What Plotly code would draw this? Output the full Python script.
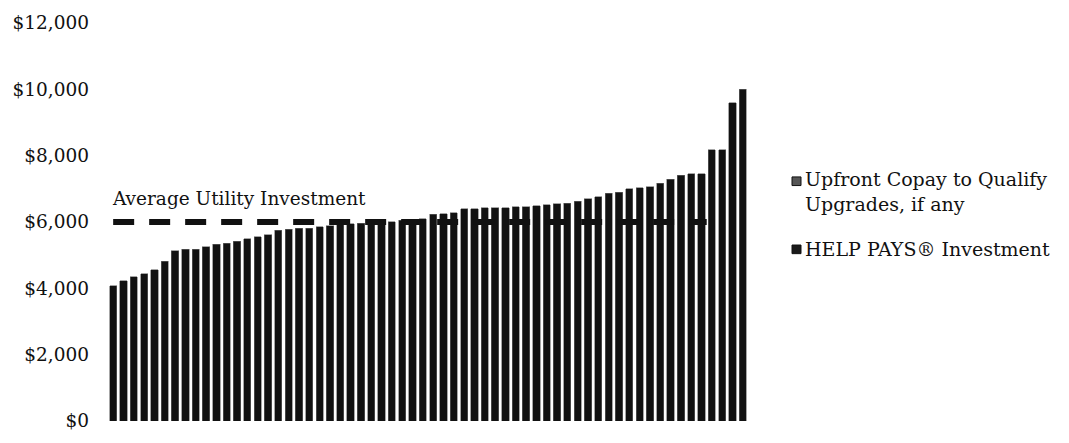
import plotly.graph_objects as go

# ---- data ----
bar_ids = list(range(1, 63))
help_pays = [4073, 4227, 4343, 4438, 4566, 4815, 5133, 5174, 5174, 5249,
             5336, 5365, 5414, 5501, 5559, 5617, 5753, 5782, 5811, 5811,
             5857, 5886, 5935, 5944, 5964, 5984, 5993, 6013, 6051, 6080,
             6100, 6233, 6254, 6274, 6398, 6398, 6427, 6427, 6427, 6456,
             6465, 6494, 6514, 6543, 6572, 6621, 6708, 6755, 6870, 6891,
             7006, 7035, 7056, 7171, 7287, 7403, 7449, 7449, 8185, 8185,
             9592, 9997]
copay = [0] * 62
avg_utility = 6000
avg_x = [1, 58.5]
y_ticks = [0, 2000, 4000, 6000, 8000, 10000, 12000]
y_tick_text = ["$0", "$2,000", "$4,000", "$6,000", "$8,000", "$10,000", "$12,000"]

FONT = "DejaVu Serif"

fig = go.Figure()
fig.add_trace(go.Bar(x=bar_ids, y=help_pays, name="HELP PAYS® Investment",
                     marker=dict(color="#121212", line=dict(color="#6a6a6a", width=0.6)),
                     showlegend=False))
fig.add_trace(go.Bar(x=bar_ids, y=copay, name="Upfront Copay to Qualify Upgrades, if any",
                     marker=dict(color="#3c3c3c", line=dict(width=0)),
                     showlegend=False))
fig.add_trace(go.Scatter(x=avg_x, y=[avg_utility] * len(avg_x), mode="lines",
                         line=dict(color="#111111", width=6, dash="21px,15px"),
                         showlegend=False, hoverinfo="skip"))

fig.update_layout(
    width=1069, height=443,
    margin=dict(l=108, r=321, t=15, b=13),
    paper_bgcolor="white", plot_bgcolor="white",
    barmode="stack", bargap=0.3,
    font=dict(family=FONT, color="#111111", size=18),
    xaxis=dict(range=[0.5, 62.5], showticklabels=False, showgrid=False,
               zeroline=False, showline=False, ticks=""),
    yaxis=dict(range=[0, 12000], tickvals=y_ticks, ticktext=y_tick_text,
               showgrid=False, zeroline=False, showline=False, ticks="",
               ticklabelstandoff=18, tickfont=dict(family=FONT, size=18.5, color="#111111")),
)

# annotation for average line
fig.add_annotation(x=0.68, y=6720, xref="x", yref="y", text="Average Utility Investment",
                   showarrow=False, xanchor="left", yanchor="middle",
                   font=dict(family=FONT, size=18.5, color="#111111"))

# legend drawn as text + squares
def px_to_paper_x(px):
    return (px - 108) / 640.0

def px_to_paper_y(py):
    return (430 - py) / 415.0

legend_items = [
    ("Upfront Copay to Qualify<br>Upgrades, if any", 180, 191, "#555555"),
    ("HELP PAYS® Investment", 251, 251, "#1a1a1a"),
]
for text, sq_y, txt_y, col in legend_items:
    fig.add_shape(type="rect", xref="paper", yref="paper",
                  x0=px_to_paper_x(792), x1=px_to_paper_x(801),
                  y0=px_to_paper_y(sq_y + 4.5), y1=px_to_paper_y(sq_y - 4.5),
                  fillcolor=col, line=dict(color="#111111", width=1))
    fig.add_annotation(x=px_to_paper_x(803), y=px_to_paper_y(txt_y), xref="paper", yref="paper",
                       text=text, showarrow=False, xanchor="left", yanchor="middle",
                       align="left", font=dict(family=FONT, size=19, color="#111111"))

fig.write_html("out.html")
